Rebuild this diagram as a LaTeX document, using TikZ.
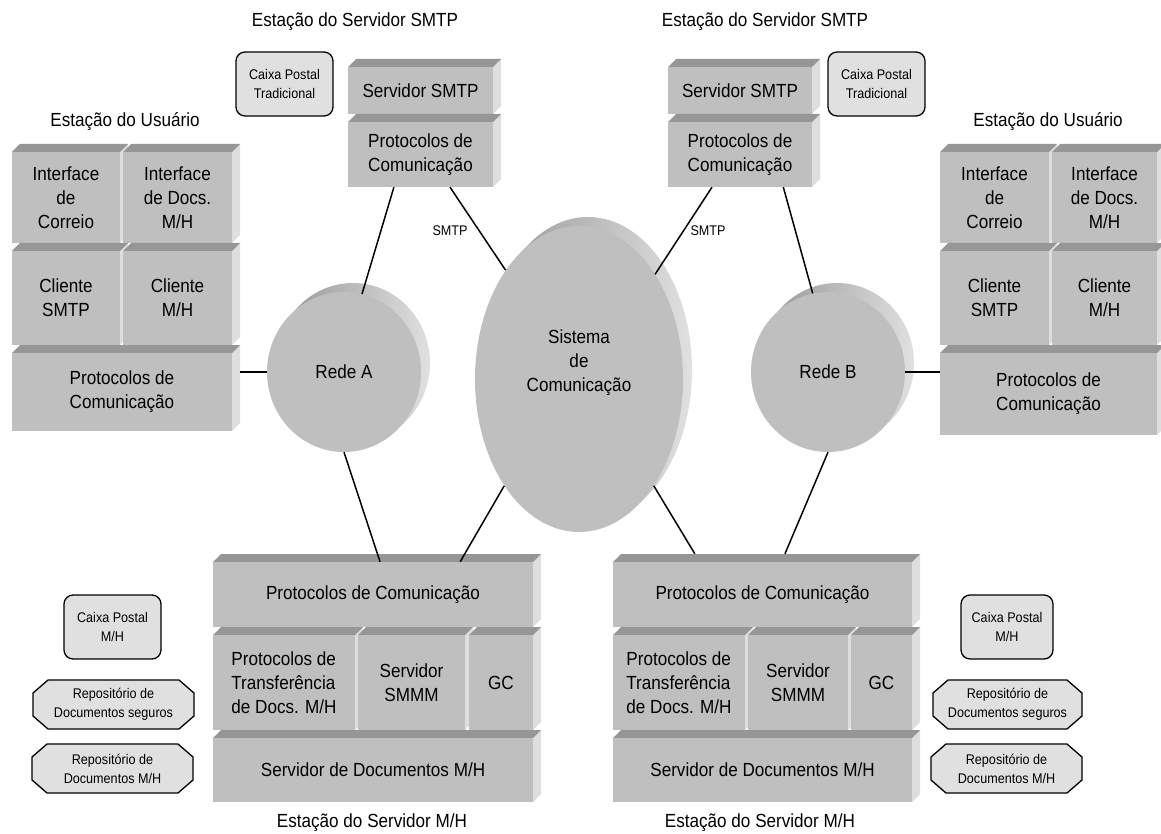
\documentclass[tikz,border=0pt]{standalone}
\usepackage{fontspec}
\setmainfont{Liberation Sans}[FakeStretch=0.9]
\usetikzlibrary{shapes.geometric,calc}
\newcommand\bigfont{\fontsize{19}{24}\selectfont}
\newcommand\smallfont{\fontsize{14}{19}\selectfont}
\def\bd{8}
\tikzset{
 front/.style={fill=black!25, draw=none, inner sep=0pt, align=center, font=\bigfont},
 topface/.style={fill=black!41},
 sideface/.style={fill=black!13},
 title/.style={font=\bigfont, inner sep=0pt},
 caixa/.style={draw=black, line width=1.3pt, fill=black!12, rounded corners=9pt, align=center, font=\smallfont, inner sep=0pt},
 repoline/.style={draw=black, line width=1.3pt, fill=black!12},
 repotext/.style={rectangle, align=center, font=\smallfont, inner sep=0pt},
 net/.style={ellipse, fill=black!25, inner sep=0pt, align=center, font=\bigfont},
 rim/.style={left color=black!42, right color=black!12},
 conn/.style={line width=1.5pt, black},
 lbl/.style={font=\smallfont, inner sep=1pt},
}
\newcommand\mblock[7][]{%
 \fill[sideface] (#5,#4) -- (#5+\bd,#4-\bd) -- (#5+\bd,#6-\bd) -- (#5,#6) -- cycle;
 \fill[topface] (#3,#4) -- (#3+\bd,#4-\bd) -- (#5+\bd,#4-\bd) -- (#5,#4) -- cycle;
 \pgfmathsetmacro\bw{#5-#3}\pgfmathsetmacro\bh{#6-#4}
 \node[front,minimum width=\bw pt,minimum height=\bh pt,#1] (#2) at ({(#3+#5)/2},{(#4+#6)/2}) {#7};
}
\newcommand\repobox[6]{%
 \pgfmathsetmacro\rxa{#2-#4/2}\pgfmathsetmacro\rxb{#2+#4/2}%
 \pgfmathsetmacro\rya{#3-#5/2}\pgfmathsetmacro\ryb{#3+#5/2}%
 \filldraw[repoline] (\rxa+15,\rya) -- (\rxb-15,\rya) -- (\rxb,\rya+13) -- (\rxb,\ryb-13) -- (\rxb-15,\ryb) -- (\rxa+15,\ryb) -- (\rxa,\ryb-13) -- (\rxa,\rya+13) -- cycle;
 \node[repotext, minimum width=#4pt, minimum height=#5pt] (#1) at (#2,#3) {#6};
}
\begin{document}
\begin{tikzpicture}[x=1pt,y=-1pt]
\useasboundingbox (0,0) rectangle (1161,834);
\clip (0,0) rectangle (1161,834);

% titles
\node[title] (tS1) at (355,22) {Estação do Servidor SMTP};
\node[title] (tS2) at (765,22) {Estação do Servidor SMTP};
\node[title] (tU1) at (125,122) {Estação do Usuário};
\node[title] (tU2) at (1048,122) {Estação do Usuário};
\node[title] (tM1) at (372,823) {Estação do Servidor M/H};
\node[title] (tM2) at (760,823) {Estação do Servidor M/H};

% left user station
\mblock{u1a}{12}{152}{120}{243}{Interface\\de\\Correio}
\mblock{u1b}{123}{152}{232}{243}{Interface\\de Docs.\\M/H}
\mblock{u2a}{12}{251}{120}{345}{Cliente\\SMTP}
\mblock{u2b}{123}{251}{232}{345}{Cliente\\M/H}
\mblock{u3}{12}{353}{232}{431}{Protocolos de\\Comunicação}

% right user station
\mblock{v1a}{940}{152}{1049}{243}{Interface\\de\\Correio}
\mblock{v1b}{1052}{152}{1157}{243}{Interface\\de Docs.\\M/H}
\mblock{v2a}{940}{251}{1049}{345}{Cliente\\SMTP}
\mblock{v2b}{1052}{251}{1157}{345}{Cliente\\M/H}
\mblock{v3}{940}{353}{1157}{435}{Protocolos de\\Comunicação}

% SMTP server stations
\mblock{s1}{348}{67}{493}{114}{Servidor SMTP}
\mblock{pL}{348}{122}{493}{187}{Protocolos de\\Comunicação}
\mblock{s2}{668}{67}{812}{114}{Servidor SMTP}
\mblock{pR}{668}{122}{812}{187}{Protocolos de\\Comunicação}

% M/H server stations
\mblock{mL1}{213}{562}{533}{627}{Protocolos de Comunicação}
\mblock[align=left]{mL2a}{213}{635}{355}{730}{Protocolos de\\Transferência\\de Docs. M/H}
\mblock{mL2b}{358}{635}{465}{730}{Servidor\\SMMM}
\mblock{mL2c}{469}{635}{533}{730}{GC}
\mblock{mL3}{213}{738}{533}{802}{Servidor de Documentos M/H}

\mblock{mR1}{613}{562}{912}{627}{Protocolos de Comunicação}
\mblock[align=left]{mR2a}{613}{635}{745}{730}{Protocolos de\\Transferência\\de Docs. M/H}
\mblock{mR2b}{748}{635}{848}{730}{Servidor\\SMMM}
\mblock{mR2c}{851}{635}{912}{730}{GC}
\mblock{mR3}{613}{738}{912}{802}{Servidor de Documentos M/H}

% mail boxes and repositories
\node[caixa, minimum width=97pt, minimum height=64pt] (cT1) at (284.5,84) {Caixa Postal\\Tradicional};
\node[caixa, minimum width=97pt, minimum height=64pt] (cT2) at (876.5,84) {Caixa Postal\\Tradicional};
\node[caixa, minimum width=97pt, minimum height=64pt] (cM1) at (112.5,627) {Caixa Postal\\M/H};
\node[caixa, minimum width=92pt, minimum height=64pt] (cM2) at (1007,627) {Caixa Postal\\M/H};
\repobox{rs1}{113.5}{704.5}{161}{49}{Repositório de\\Documentos seguros}
\repobox{rm1}{112.5}{768.5}{161}{49}{Repositório de\\Documentos M/H}
\repobox{rs2}{1007.5}{704.5}{149}{49}{Repositório de\\Documentos seguros}
\repobox{rm2}{1006.5}{768.5}{151}{49}{Repositório de\\Documentos M/H}

% networks
\shade[rim] (353,363) ellipse [x radius=77pt, y radius=80pt];
\node[net, minimum width=154pt, minimum height=160pt] (rA) at (344,372) {Rede A};
\shade[rim] (837,363) ellipse [x radius=77pt, y radius=80pt];
\node[net, minimum width=154pt, minimum height=160pt] (rB) at (828,372) {Rede B};
\shade[rim] (588,370) ellipse [x radius=104pt, y radius=153pt];
\node[net, minimum width=208pt, minimum height=306pt, text depth=36pt] (sys) at (579,379) {Sistema\\de\\Comunicação};

% connectors
\draw[conn] ($(pL.south west)!0.317!(pL.south east)$) -- (rA.77);
\draw[conn] ($(pL.south west)!0.703!(pL.south east)$) -- (sys.124.6);
\draw[conn] ($(pR.south west)!0.306!(pR.south east)$) -- (sys.54.4);
\draw[conn] ($(pR.south west)!0.80!(pR.south east)$) -- (rB.101);
\draw[conn] ($(u3.east |- rA.west)+(8,0)$) -- (rA.west);
\draw[conn] (rB.east) -- (v3.west |- rB.east);
\draw[conn] (rA.south) -- ($(mL1.north west)!0.522!(mL1.north east)$);
\draw[conn] (sys.235.8) -- ($(mL1.north west)!0.772!(mL1.north east)$);
\draw[conn] (sys.-55.1) -- ($(mR1.north west)!0.274!(mR1.north east)+(0,-8)$);
\draw[conn] (rB.south) -- ($(mR1.north west)!0.575!(mR1.north east)+(0,-8)$);

\node[lbl] (l1) at (450,231) {SMTP};
\node[lbl] (l2) at (708,231) {SMTP};
\end{tikzpicture}
\end{document}
